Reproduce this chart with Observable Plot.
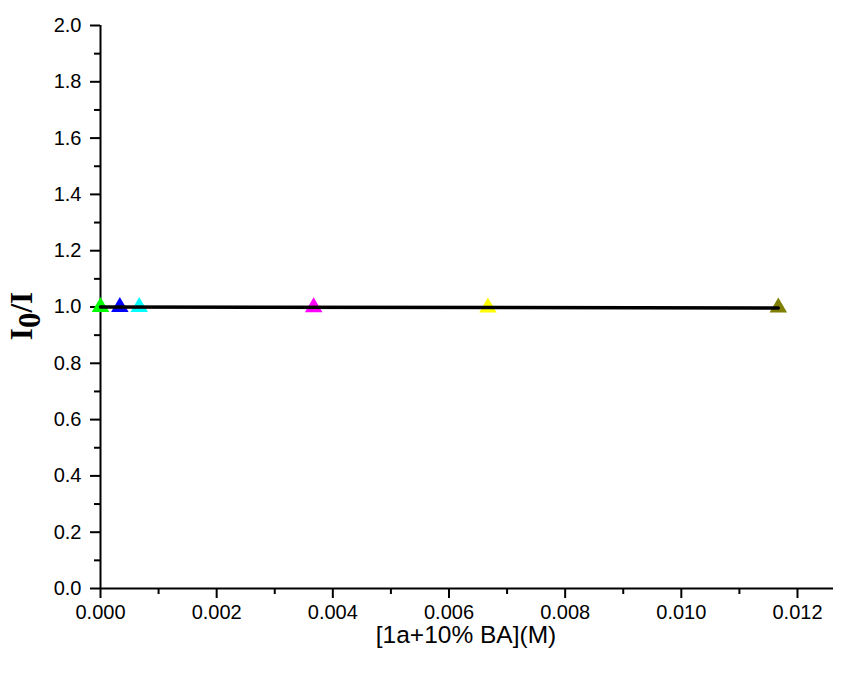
<!DOCTYPE html>
<html><head><meta charset="utf-8">
<script src="https://cdn.jsdelivr.net/npm/d3@7"></script>
<script src="https://cdn.jsdelivr.net/npm/@observablehq/plot@0.6"></script>
<style>body{margin:0;background:#fff}</style>
</head><body><div id="chart"></div>
<script>
const concentrations = [0, 0.000333, 0.000667, 0.00367, 0.00667, 0.01167];
const ratios = [1.0, 1.0, 1.0, 0.999, 0.998, 0.998];
const pointColors = ["#00ff00", "#0000ff", "#00ffff", "#ff00ff", "#ffff00", "#808000"];
const fitX = [0, 0.01167];
const fitY = [1.0, 0.9965];
const xTicks = [0, 0.002, 0.004, 0.006, 0.008, 0.010, 0.012];
const xMinor = [0.001, 0.003, 0.005, 0.007, 0.009, 0.011];
const yTicks = [0, 0.2, 0.4, 0.6, 0.8, 1.0, 1.2, 1.4, 1.6, 1.8, 2.0];
const yMinor = [0.1, 0.3, 0.5, 0.7, 0.9, 1.1, 1.3, 1.5, 1.7, 1.9];
const xLabel = "[1a+10% BA](M)";

const pts = concentrations.map((c, i) => ({x: c, y: ratios[i], c: pointColors[i]}));
const fit = fitX.map((x, i) => ({x, y: fitY[i]}));

const chart = Plot.plot({
  width: 847, height: 673,
  marginLeft: 100, marginRight: 14, marginTop: 25, marginBottom: 85,
  style: {fontFamily: "'Liberation Sans', Arial, sans-serif", fontSize: "19px", color: "#000", background: "#fff"},
  x: {domain: [0, 0.01262]},
  y: {domain: [0, 2]},
  marks: [
    Plot.axisX(xMinor, {tickSize: 6, strokeWidth: 2, tickFormat: () => "", label: null}),
    Plot.axisX(xTicks, {tickSize: 10, strokeWidth: 2, tickPadding: 6, tickFormat: d3.format(".3f"), label: null}),
    Plot.axisY(yMinor, {tickSize: 6, strokeWidth: 2, tickFormat: () => "", label: null}),
    Plot.axisY(yTicks, {tickSize: 10, strokeWidth: 2, tickPadding: 9, tickFormat: d3.format(".1f"), label: null}),
    Plot.ruleY([0], {strokeWidth: 2}),
    Plot.ruleX([0], {strokeWidth: 2}),
    Plot.dot(pts, {x: "x", y: "y", fill: "c", symbol: "triangle", r: 6.5}),
    Plot.line(fit, {x: "x", y: "y", stroke: "#000", strokeWidth: 3.5})
  ]
});

const svg = d3.select(chart);
svg.selectAll("text").style("font-size", "20px").style("font-family", "'Liberation Sans', Arial, sans-serif");

svg.append("text")
  .attr("x", 466).attr("y", 643)
  .attr("text-anchor", "middle")
  .style("font-family", "'Liberation Sans', Arial, sans-serif")
  .style("font-size", "24.5px")
  .text(xLabel);

const yl = svg.append("text")
  .attr("transform", "translate(32,316) rotate(-90)")
  .attr("text-anchor", "middle")
  .style("font-family", "'Liberation Serif', 'Times New Roman', serif")
  .style("font-weight", "bold")
  .style("font-size", "31px");
yl.append("tspan").text("I");
yl.append("tspan").attr("dy", 8).text("0");
yl.append("tspan").attr("dy", -8).text("/I");

document.getElementById("chart").appendChild(chart);
</script>
</body></html>
